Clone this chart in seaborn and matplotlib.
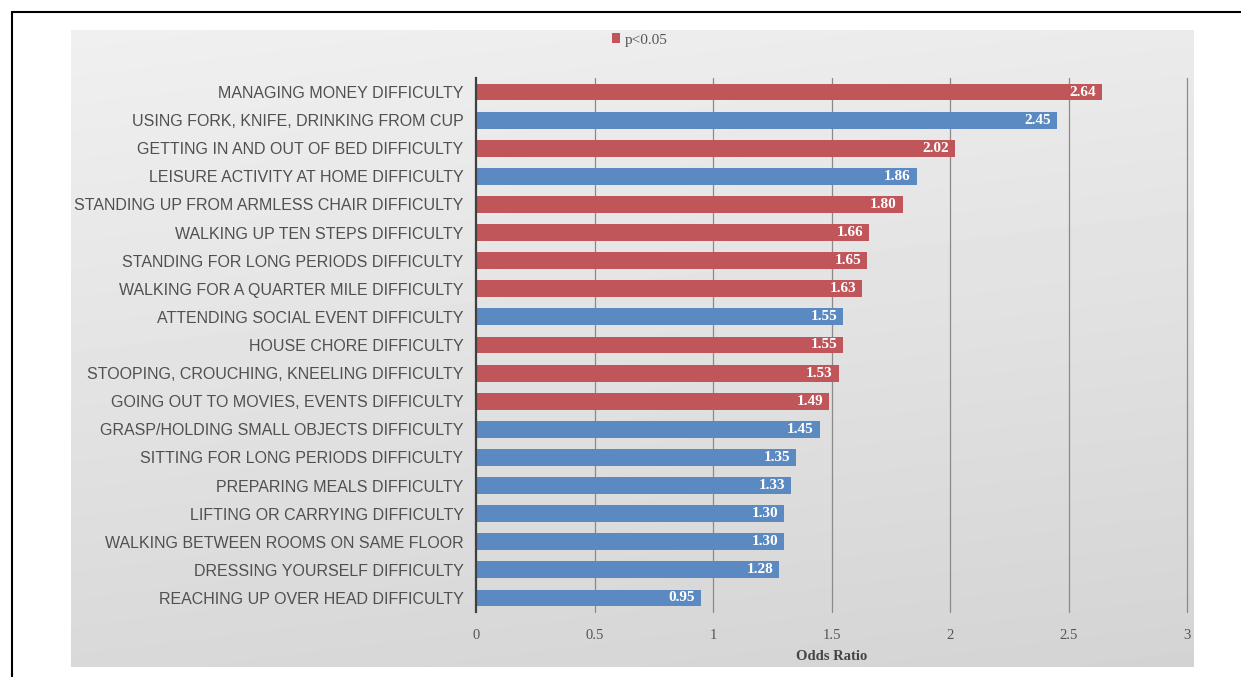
import numpy as np
import pandas as pd
import matplotlib
matplotlib.use("Agg")
import matplotlib.pyplot as plt
from matplotlib.patches import Patch
from matplotlib.lines import Line2D
import seaborn as sns

categories = [
    "MANAGING MONEY DIFFICULTY",
    "USING FORK, KNIFE, DRINKING FROM CUP",
    "GETTING IN AND OUT OF BED DIFFICULTY",
    "LEISURE ACTIVITY AT HOME DIFFICULTY",
    "STANDING UP FROM ARMLESS CHAIR DIFFICULTY",
    "WALKING UP TEN STEPS DIFFICULTY",
    "STANDING FOR LONG PERIODS DIFFICULTY",
    "WALKING FOR A QUARTER MILE DIFFICULTY",
    "ATTENDING SOCIAL EVENT DIFFICULTY",
    "HOUSE CHORE DIFFICULTY",
    "STOOPING, CROUCHING, KNEELING DIFFICULTY",
    "GOING OUT TO MOVIES, EVENTS DIFFICULTY",
    "GRASP/HOLDING SMALL OBJECTS DIFFICULTY",
    "SITTING FOR LONG PERIODS DIFFICULTY",
    "PREPARING MEALS DIFFICULTY",
    "LIFTING OR CARRYING DIFFICULTY",
    "WALKING BETWEEN ROOMS ON SAME FLOOR",
    "DRESSING YOURSELF DIFFICULTY",
    "REACHING UP OVER HEAD DIFFICULTY",
]
odds_ratios = [2.64, 2.45, 2.02, 1.86, 1.80, 1.66, 1.65, 1.63, 1.55, 1.55,
               1.53, 1.49, 1.45, 1.35, 1.33, 1.30, 1.30, 1.28, 0.95]
significant = [True, False, True, False, True, True, True, True, False, True,
               True, True, False, False, False, False, False, False, False]
x_ticks = [0, 0.5, 1, 1.5, 2, 2.5, 3]
x_tick_labels = ["0", "0.5", "1", "1.5", "2", "2.5", "3"]
legend_label = "p<0.05"
x_label = "Odds Ratio"

RED = "#c0555a"
BLUE = "#5b8ac3"

df = pd.DataFrame({
    "category": categories,
    "odds": odds_ratios,
    "sig": ["p<0.05" if s else "n.s." for s in significant],
})

sns.set_theme(style="white")
plt.rcParams["font.family"] = ["Liberation Sans", "DejaVu Sans"]

W, H = 1241, 677
fig = plt.figure(figsize=(W / 100, H / 100), dpi=100)
fig.patch.set_facecolor("white")

# background gray panel with subtle gradient
px0, px1, py0, py1 = 71, 1194, 30, 667
bg = fig.add_axes([px0 / W, 1 - py1 / H, (px1 - px0) / W, (py1 - py0) / H], zorder=0)
gy, gx = np.mgrid[0:1:200j, 0:1:200j]
grad = 0.94 - 0.09 * gy - 0.02 * gx
bg.imshow(grad, cmap="gray", vmin=0, vmax=1, aspect="auto",
          extent=[0, 1, 0, 1], origin="upper", interpolation="bicubic")
bg.set_axis_off()

# main axes
ax0, ax1, ay0, ay1 = 476, 1187, 78, 612
ax = fig.add_axes([ax0 / W, 1 - ay1 / H, (ax1 - ax0) / W, (ay1 - ay0) / H], zorder=1)
ax.set_facecolor("none")

sns.barplot(data=df, x="odds", y="category", hue="sig",
            palette={"p<0.05": RED, "n.s.": BLUE}, dodge=False, saturation=1,
            width=0.6, legend=False, ax=ax, orient="h", zorder=3,
            edgecolor="none", linewidth=0)

ax.set_xlim(0, 3)
ax.set_ylim(len(categories) - 0.5, -0.5)
ax.set_xticks(x_ticks)
ax.set_xticklabels(x_tick_labels, fontfamily="Liberation Serif", fontsize=10.5, color="#555555")
ax.tick_params(axis="x", length=0, pad=12)
ax.tick_params(axis="y", length=0, pad=9)
for lab in ax.get_yticklabels():
    lab.set_fontsize(11.5)
    lab.set_color("#505050")
ax.set_ylabel("")
ax.set_xlabel(x_label, fontfamily="Liberation Serif", fontweight="bold",
              fontsize=10.5, color="#444444", labelpad=6)

for xv in x_ticks[1:]:
    ax.axvline(xv, color="#8a8a8a", lw=0.9, zorder=1, clip_on=False)
for s in ["top", "right", "bottom"]:
    ax.spines[s].set_visible(False)
ax.spines["left"].set_color("#404040")
ax.spines["left"].set_linewidth(1.6)
ax.spines["left"].set_zorder(5)

# value labels
for i, v in enumerate(odds_ratios):
    ax.text(v - 0.025, i, f"{v:.2f}", ha="right", va="center",
            fontfamily="Liberation Serif", fontweight="bold", fontsize=11,
            color="white", zorder=6)

# legend
fig.legend(handles=[Patch(facecolor=RED, edgecolor="none")], labels=[legend_label],
           loc="center", bbox_to_anchor=(640 / W, 1 - 40 / H), frameon=False,
           handlelength=0.55, handleheight=0.55, handletextpad=0.3,
           prop={"family": "Liberation Serif", "size": 11},
           labelcolor="#555555")

# outer border lines (top and left)
fig.add_artist(Line2D([12 / W, 1], [1 - 12 / H, 1 - 12 / H], transform=fig.transFigure,
                      color="black", lw=1.5))
fig.add_artist(Line2D([12 / W, 12 / W], [0, 1 - 12 / H], transform=fig.transFigure,
                      color="black", lw=1.5))

fig.savefig("out.png", dpi=100, facecolor="white")
